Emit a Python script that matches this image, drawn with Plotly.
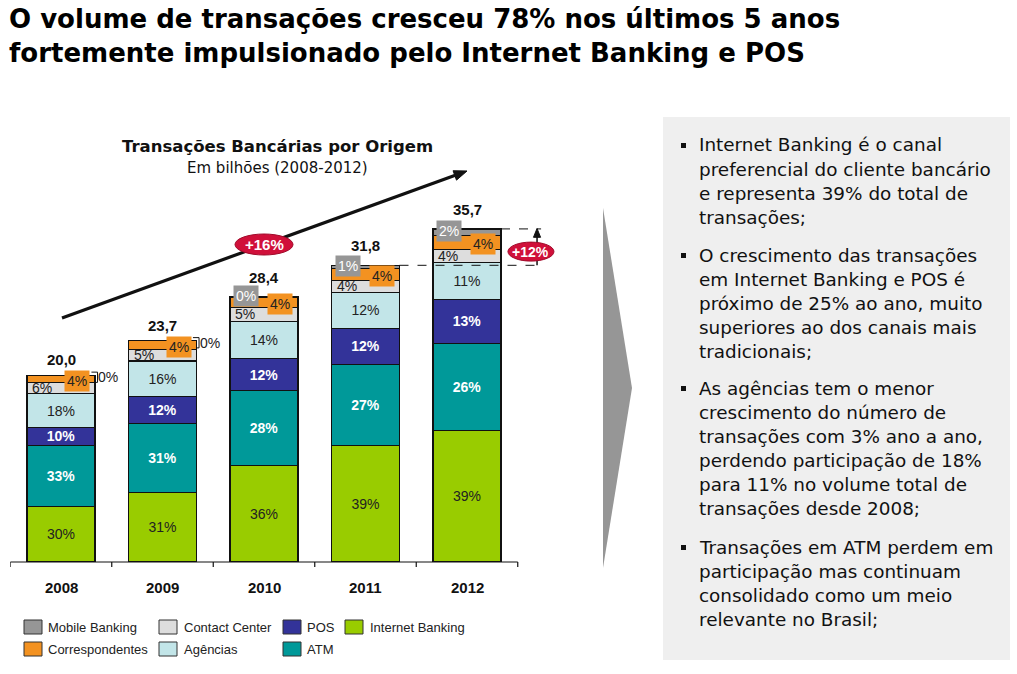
import math
import plotly.graph_objects as go

# ---------------- data ----------------
years = ["2008", "2009", "2010", "2011", "2012"]
totals = [20.0, 23.7, 28.4, 31.8, 35.7]
total_labels = ["20,0", "23,7", "28,4", "31,8", "35,7"]

series_names = ["Internet Banking", "ATM", "POS", "Agências", "Contact Center", "Correspondentes", "Mobile Banking"]
internet = [30, 31, 36, 39, 39]
atm = [33, 31, 28, 27, 26]
pos = [10, 12, 12, 12, 13]
agencias = [18, 16, 14, 12, 11]
contact = [6, 5, 5, 4, 4]
corresp = [4, 4, 4, 4, 4]
mobile = [0, 0, 0, 1, 2]
series_pcts = [internet, atm, pos, agencias, contact, corresp, mobile]
series_colors = ["#99CC00", "#009999", "#333399", "#C2E5E8", "#DDDDDD", "#F39221", "#969696"]

growth_total = "+16%"
growth_last = "+12%"

title_lines = ["O volume de transações cresceu 78% nos últimos 5 anos",
               "fortemente impulsionado pelo Internet Banking e POS"]
chart_title = "Transações Bancárias por Origem"
chart_subtitle = "Em bilhões (2008-2012)"

bullets = [
    ["Internet Banking é o canal", "preferencial do cliente bancário", "e representa 39% do total de", "transações;"],
    ["O crescimento das transações", "em Internet Banking e POS é", "próximo de 25% ao ano, muito", "superiores ao dos canais mais", "tradicionais;"],
    ["As agências tem o menor", "crescimento do número de", "transações com 3% ano a ano,", "perdendo participação de 18%", "para 11% no volume total de", "transações desde 2008;"],
    ["Transações em ATM perdem em", "participação mas continuam", "consolidado como um meio", "relevante no Brasil;"],
]

# ---------------- helpers ----------------
W, H = 1017, 674
def PX(x):
    return x / W
def PY(y):
    return 1 - y / H

BASE = 562.0
UNIT = 9.33       # px per billion
STEP = 101.5      # px per category
X0 = 61.0         # px centre of first bar
BW = 0.67

ARIAL = "Liberation Sans, Arial, sans-serif"
TITLEF = "DejaVu Sans, sans-serif"

xs = list(range(len(years)))

# segment heights (values normalised to each year's total)
seg_vals = []
for pcts in series_pcts:
    vals = []
    for i in xs:
        s = sum(p[i] for p in series_pcts)
        vals.append(totals[i] * pcts[i] / s)
    seg_vals.append(vals)

fig = go.Figure()
text_styles = {
    "Internet Banking": ("#222222", False),
    "ATM": ("white", True),
    "POS": ("white", True),
    "Agências": ("#222222", False),
}
for k, name in enumerate(series_names):
    txt = None
    tcolor = "#222"
    if name in text_styles:
        tcolor, bold = text_styles[name]
        txt = [("<b>%d%%</b>" if bold else "%d%%") % p for p in series_pcts[k]]
    fig.add_trace(go.Bar(
        x=xs, y=seg_vals[k], name=name, width=BW,
        marker=dict(color=series_colors[k], line=dict(color="#111111", width=1.2)),
        text=txt, textposition="inside" if txt else "none",
        insidetextanchor="middle", textangle=0,
        textfont=dict(family=ARIAL, size=14, color=tcolor),
        hoverinfo="skip", showlegend=False,
    ))

annotations = []
shapes = []

# cumulative tops
cum = []
acc = [0.0] * len(xs)
for vals in seg_vals:
    acc = [a + v for a, v in zip(acc, vals)]
    cum.append(list(acc))
i_cc = series_names.index("Contact Center")
i_co = series_names.index("Correspondentes")
i_mo = series_names.index("Mobile Banking")

for i in xs:
    top = totals[i]
    cc_mid = cum[i_cc][i] - seg_vals[i_cc][i] / 2
    co_mid = cum[i_co][i] - seg_vals[i_co][i] / 2
    mo_mid = cum[i_mo][i] - seg_vals[i_mo][i] / 2
    annotations.append(dict(x=i, y=cc_mid, xref="x", yref="y", xanchor="center", text="%d%%" % contact[i],
                            showarrow=False, xshift=-19, font=dict(family=ARIAL, size=14, color="#222")))
    annotations.append(dict(x=i, y=co_mid, xref="x", yref="y", xanchor="center", text="%d%%" % corresp[i],
                            showarrow=False, xshift=16, yshift=-2, bgcolor=series_colors[i_co],
                            borderpad=2, font=dict(family=ARIAL, size=14, color="#222")))
    if i < 2:
        annotations.append(dict(x=i, y=top, xref="x", yref="y", xanchor="center", text="%d%%" % mobile[i],
                                showarrow=False, xshift=47, yshift=-2,
                                font=dict(family=ARIAL, size=14, color="#222")))
        shapes.append(dict(type="path", xref="x", yref="y",
                           path="M %f,%f L %f,%f L %f,%f L %f,%f" % (
                               i + 0.30, top + 0.35, i + 0.36, top + 0.35,
                               i + 0.36, top - 0.75, i + 0.33, top - 0.75),
                           line=dict(color="#111", width=1)))
        tshift = 13
    else:
        annotations.append(dict(x=i, y=mo_mid, xref="x", yref="y", xanchor="center", text="%d%%" % mobile[i],
                                showarrow=False, xshift=-18, yshift=1, bgcolor=series_colors[i_mo],
                                borderpad=2, font=dict(family=ARIAL, size=14, color="white")))
        tshift = 17
    annotations.append(dict(x=i, y=top, xref="x", yref="y", xanchor="center", text="<b>%s</b>" % total_labels[i],
                            showarrow=False, yanchor="bottom", yshift=tshift - 8,
                            font=dict(family=ARIAL, size=15, color="#111")))
    # category label
    annotations.append(dict(x=i, y=PY(587), xref="x", yref="paper", xanchor="center", yanchor="middle",
                            text="<b>%s</b>" % years[i], showarrow=False,
                            font=dict(family=ARIAL, size=15, color="#111")))

# baseline and ticks
x_left = -0.5
x_right = len(years) - 0.5
shapes.append(dict(type="line", xref="x", yref="paper", x0=x_left, x1=x_right,
                   y0=PY(BASE), y1=PY(BASE), line=dict(color="#111", width=1.2)))
for b in range(len(years) + 1):
    shapes.append(dict(type="line", xref="x", yref="paper", x0=b - 0.5, x1=b - 0.5,
                       y0=PY(BASE), y1=PY(BASE + 5), line=dict(color="#111", width=1.2)))

# dashed guide lines for last-year growth
xg = 4.69
shapes.append(dict(type="line", xref="x", yref="y", x0=3 + BW / 2, x1=4.73,
                   y0=totals[3], y1=totals[3], line=dict(color="#111", width=1, dash="dash")))
shapes.append(dict(type="line", xref="x", yref="y", x0=4 + BW / 2, x1=4.73,
                   y0=totals[4], y1=totals[4], line=dict(color="#111", width=1, dash="dash")))
shapes.append(dict(type="line", xref="x", yref="y", x0=xg, x1=xg,
                   y0=totals[3], y1=totals[4] - 0.6, line=dict(color="#111", width=1.5)))
shapes.append(dict(type="path", xref="x", yref="y",
                   path="M %f,%f L %f,%f L %f,%f Z" % (xg - 0.035, totals[4] - 0.9, xg + 0.035,
                                                        totals[4] - 0.9, xg, totals[4] + 0.05),
                   fillcolor="#111", line=dict(color="#111", width=1)))
ymid = (totals[3] + totals[4]) / 2
shapes.append(dict(type="circle", xref="x", yref="y", xsizemode="pixel", ysizemode="pixel",
                   xanchor=4.63, yanchor=ymid,
                   x0=-23, x1=23, y0=-14, y1=5,
                   fillcolor="#D0103A", line=dict(color="#A00A2A", width=1)))
annotations.append(dict(x=4.63, y=ymid, xref="x", yref="y", xanchor="center", yshift=-4.5,
                        text="<b>%s</b>" % growth_last, showarrow=False,
                        font=dict(family=ARIAL, size=14, color="white")))

# big trend arrow (decoration, pixel coords)
ax0, ay0, ax1, ay1 = 62, 318, 467, 171
L = math.hypot(ax1 - ax0, ay1 - ay0)
ux, uy = (ax1 - ax0) / L, (ay1 - ay0) / L
hl, hw = 13, 5
bx, by = ax1 - hl * ux, ay1 - hl * uy
shapes.append(dict(type="line", xref="paper", yref="paper", x0=PX(ax0), y0=PY(ay0),
                   x1=PX(bx + 2 * ux), y1=PY(by + 2 * uy), line=dict(color="#111", width=3.2)))
shapes.append(dict(type="path", xref="paper", yref="paper",
                   path="M %f,%f L %f,%f L %f,%f Z" % (PX(ax1), PY(ay1),
                                                        PX(bx - hw * uy), PY(by + hw * ux),
                                                        PX(bx + hw * uy), PY(by - hw * ux)),
                   fillcolor="#111", line=dict(color="#111", width=1)))
shapes.append(dict(type="circle", xref="paper", yref="paper",
                   x0=PX(235), x1=PX(293), y0=PY(255), y1=PY(234),
                   fillcolor="#D0103A", line=dict(color="#A00A2A", width=1)))
annotations.append(dict(x=PX(264), y=PY(244.5), xref="paper", yref="paper", xanchor="center",
                        text="<b>%s</b>" % growth_total, showarrow=False,
                        font=dict(family=ARIAL, size=15, color="white")))

# titles
annotations.append(dict(x=PX(7), y=PY(19.5), xref="paper", yref="paper", xanchor="left", yanchor="middle",
                        text="<b>%s</b>" % title_lines[0], showarrow=False,
                        font=dict(family=TITLEF, size=26.0, color="#000")))
annotations.append(dict(x=PX(7), y=PY(52.5), xref="paper", yref="paper", xanchor="left", yanchor="middle",
                        text="<b>%s</b>" % title_lines[1], showarrow=False,
                        font=dict(family=TITLEF, size=26.0, color="#000")))
annotations.append(dict(x=PX(277), y=PY(135), xref="paper", yref="paper", xanchor="center",
                        text="<b>%s</b>" % chart_title, showarrow=False,
                        font=dict(family=TITLEF, size=16.5, color="#111")))
annotations.append(dict(x=PX(277), y=PY(157), xref="paper", yref="paper", xanchor="center",
                        text=chart_subtitle, showarrow=False,
                        font=dict(family=TITLEF, size=15, color="#111")))

# legend (custom layout)
leg_cols = {"Mobile Banking": (24, 48, 627), "Correspondentes": (24, 48, 649),
            "Contact Center": (159, 184, 627), "Agências": (159, 184, 649),
            "POS": (283, 307, 627), "ATM": (283, 307, 649),
            "Internet Banking": (345, 370, 627)}
for k, name in enumerate(series_names):
    sx, tx, cy = leg_cols[name]
    shapes.append(dict(type="rect", xref="paper", yref="paper", x0=PX(sx), x1=PX(sx + 18),
                       y0=PY(cy - 7), y1=PY(cy + 7), fillcolor=series_colors[k],
                       line=dict(color="#333", width=1)))
    annotations.append(dict(x=PX(tx - 2), y=PY(cy), xref="paper", yref="paper", xanchor="left",
                            yanchor="middle", text=name, showarrow=False,
                            font=dict(family=ARIAL, size=13, color="#222")))

# chevron and side panel
shapes.append(dict(type="path", xref="paper", yref="paper",
                   path="M %f,%f L %f,%f L %f,%f Z" % (PX(603), PY(208), PX(632), PY(388), PX(603), PY(568)),
                   fillcolor="#969696", line=dict(width=0)))
shapes.append(dict(type="rect", xref="paper", yref="paper", x0=PX(663), x1=PX(1010),
                   y0=PY(660), y1=PY(117), fillcolor="#EFEFEF", line=dict(width=0), layer="below"))
bullet_first = [145, 255, 388, 547]
LINE_GAP = 24.15
for lines, cy in zip(bullets, bullet_first):
    shapes.append(dict(type="rect", xref="paper", yref="paper", x0=PX(681), x1=PX(686),
                       y0=PY(cy + 3), y1=PY(cy - 2), fillcolor="#111", line=dict(width=0)))
    for j, line in enumerate(lines):
        annotations.append(dict(x=PX(697), y=PY(cy + j * LINE_GAP), xref="paper", yref="paper",
                                xanchor="left", yanchor="middle", text=line, showarrow=False,
                                font=dict(family=TITLEF, size=18.4, color="#111")))

fig.update_layout(
    width=W, height=H, margin=dict(l=0, r=0, t=0, b=0),
    paper_bgcolor="white", plot_bgcolor="rgba(0,0,0,0)",
    barmode="stack", showlegend=False,
    uniformtext=dict(minsize=14, mode="show"),
    xaxis=dict(domain=[PX(X0 - 0.5 * STEP), PX(X0 + 5.3 * STEP)], range=[-0.5, 5.3],
               showticklabels=False, ticks="",
               showgrid=False, zeroline=False, showline=False, fixedrange=True),
    yaxis=dict(domain=[PY(BASE), PY(BASE - 42 * UNIT)], range=[0, 42], visible=False,
               showgrid=False, fixedrange=True),
    shapes=shapes, annotations=annotations,
)
fig.write_html("out.html", config={"displayModeBar": False},
               post_script="document.body.style.margin='0px';document.body.style.overflow='hidden';")
